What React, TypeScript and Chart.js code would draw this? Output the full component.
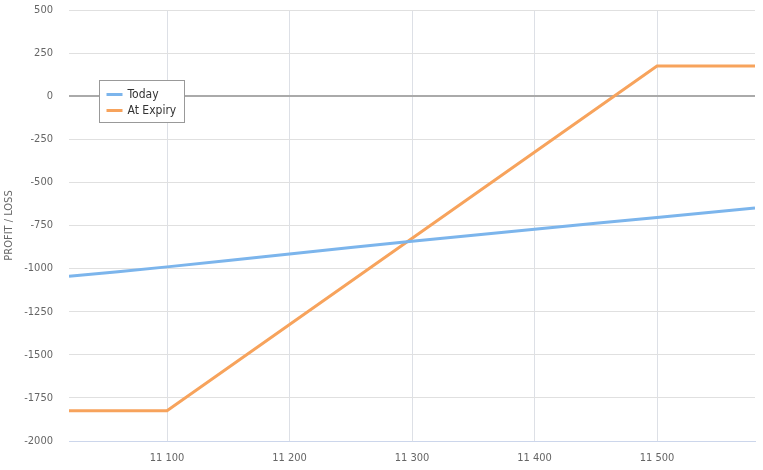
import React, { useEffect, useRef } from "react";
import { Chart, registerables } from "chart.js";
Chart.register(...registerables);

const xTicks = [11100, 11200, 11300, 11400, 11500];
const yTicks = [500, 250, 0, -250, -500, -750, -1000, -1250, -1500, -1750, -2000];
const todayX = [11020, 11100, 11200, 11300, 11400, 11500, 11580];
const todayY = [-1045, -990, -915, -842, -772, -703, -648];
const expiryX = [11020, 11100, 11500, 11580];
const expiryY = [-1825, -1825, 175, 175];
const seriesNames = ["Today", "At Expiry"];
const colors = ["#7cb5ec", "#f7a35c"];

const FONT = "'Liberation Sans Narrow', 'DejaVu Sans Condensed', sans-serif";

const fmt = (v: number) => {
  const s = String(Math.abs(v));
  const out = s.length > 4 ? s.slice(0, s.length - 3) + " " + s.slice(-3) : s;
  return (v < 0 ? "-" : "") + out;
};

const legendPlugin = {
  id: "boxLegend",
  afterDraw(chart: any) {
    const ctx = chart.ctx;
    ctx.save();
    const x = 99.5, y = 80.5, w = 85, h = 42;
    ctx.fillStyle = "#fff";
    ctx.fillRect(x, y, w, h);
    ctx.strokeStyle = "#999";
    ctx.lineWidth = 1;
    ctx.strokeRect(x, y, w, h);
    ctx.font = "12px " + FONT;
    ctx.textBaseline = "middle";
    seriesNames.forEach((n, i) => {
      const cy = y + 14 + i * 16;
      ctx.strokeStyle = colors[i];
      ctx.lineWidth = 3;
      ctx.beginPath();
      ctx.moveTo(x + 7, cy);
      ctx.lineTo(x + 23, cy);
      ctx.stroke();
      ctx.fillStyle = "#333";
      ctx.fillText(n, x + 28, cy);
    });
    ctx.restore();
  },
};

export default function App() {
  const ref = useRef<HTMLCanvasElement>(null);
  useEffect(() => {
    document.body.style.margin = "0";
    const chart = new Chart(ref.current!, {
      type: "line",
      data: {
        datasets: [
          {
            label: seriesNames[0],
            data: todayX.map((x, i) => ({ x, y: todayY[i] })),
            borderColor: colors[0],
            borderWidth: 3,
            pointRadius: 0,
            tension: 0.3,
          },
          {
            label: seriesNames[1],
            data: expiryX.map((x, i) => ({ x, y: expiryY[i] })),
            borderColor: colors[1],
            borderWidth: 3,
            pointRadius: 0,
            tension: 0,
          },
        ],
      },
      options: {
        animation: false,
        responsive: false,
        layout: { padding: { top: 10, right: 8, left: 0, bottom: 0 } },
        plugins: { legend: { display: false }, tooltip: { enabled: false } },
        scales: {
          x: {
            type: "linear",
            min: 11020,
            max: 11580,
            afterBuildTicks: (s: any) => {
              s.ticks = xTicks.map((v) => ({ value: v }));
            },
            afterFit: (s: any) => {
              s.height = 29;
              s.paddingLeft = 0;
              s.paddingRight = 0;
            },
            grid: { color: "#dde0e6", drawTicks: false },
            border: { color: "#ccd6eb" },
            ticks: {
              color: "#666",
              font: { family: FONT, size: 11 },
              padding: 11,
              maxRotation: 0,
              callback: (v: any) => fmt(Number(v)),
            },
          },
          y: {
            min: -2000,
            max: 500,
            afterBuildTicks: (s: any) => {
              s.ticks = yTicks.map((v) => ({ value: v }));
            },
            afterFit: (s: any) => {
              s.width = 69;
              s.paddingTop = 0;
              s.paddingBottom = 0;
            },
            grid: {
              color: (c: any) => (c.tick && c.tick.value === 0 ? "#aaaaaa" : "#e0e0e0"),
              lineWidth: (c: any) => (c.tick && c.tick.value === 0 ? 2 : 1),
              drawTicks: false,
            },
            border: { display: false },
            title: {
              display: true,
              text: "PROFIT / LOSS",
              color: "#666",
              font: { family: FONT, size: 11 },
              padding: { top: 3, bottom: 4 },
            },
            ticks: {
              color: "#666",
              font: { family: FONT, size: 11 },
              padding: 16,
              callback: (v: any) => String(v),
            },
          },
        },
      },
      plugins: [legendPlugin],
    } as any);
    return () => chart.destroy();
  }, []);
  return <canvas ref={ref} width={763} height={470} style={{ display: "block" }} />;
}
